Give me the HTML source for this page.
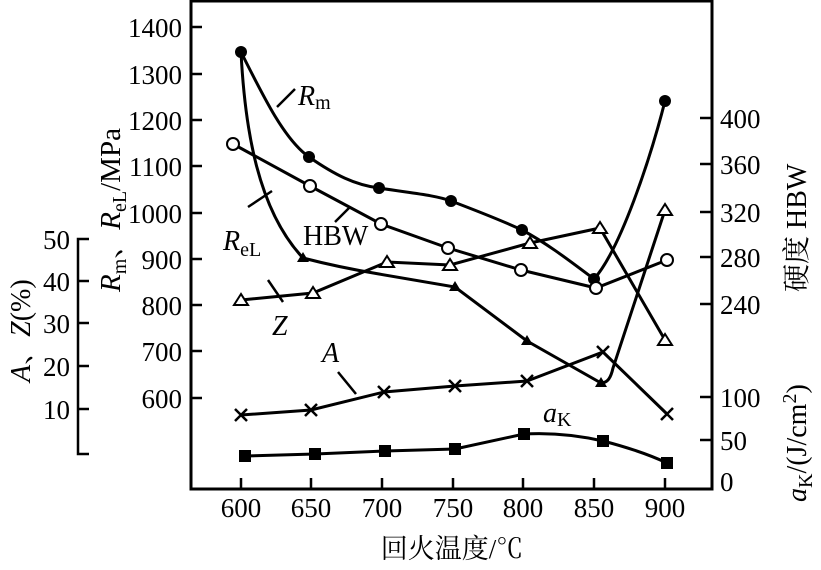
<!DOCTYPE html>
<html><head><meta charset="utf-8"><style>
html,body{margin:0;padding:0;background:#fff;}
svg text{font-family:"Liberation Serif","Noto Serif CJK SC",serif;fill:#000;}
</style></head><body>
<svg width="821" height="565" viewBox="0 0 821 565" xmlns="http://www.w3.org/2000/svg">
<rect x="191" y="1" width="521" height="488" fill="none" stroke="#000" stroke-width="3"/>
<g stroke="#000" stroke-width="2.5">
<line x1="191" y1="27" x2="202" y2="27"/><line x1="191" y1="74" x2="202" y2="74"/><line x1="191" y1="120" x2="202" y2="120"/><line x1="191" y1="166" x2="202" y2="166"/><line x1="191" y1="213" x2="202" y2="213"/><line x1="191" y1="259" x2="202" y2="259"/><line x1="191" y1="305" x2="202" y2="305"/><line x1="191" y1="351" x2="202" y2="351"/><line x1="191" y1="398" x2="202" y2="398"/>
<line x1="700" y1="118" x2="712" y2="118"/><line x1="700" y1="164" x2="712" y2="164"/><line x1="700" y1="212" x2="712" y2="212"/><line x1="700" y1="257" x2="712" y2="257"/><line x1="700" y1="304" x2="712" y2="304"/><line x1="700" y1="397" x2="712" y2="397"/><line x1="700" y1="440" x2="712" y2="440"/>
<line x1="241" y1="478" x2="241" y2="489"/><line x1="311" y1="478" x2="311" y2="489"/><line x1="382" y1="478" x2="382" y2="489"/><line x1="453" y1="478" x2="453" y2="489"/><line x1="523" y1="478" x2="523" y2="489"/><line x1="594" y1="478" x2="594" y2="489"/><line x1="665" y1="478" x2="665" y2="489"/>
<polyline points="89,239 78,239 78,454 89,454" fill="none"/>
<line x1="78" y1="281" x2="89" y2="281"/><line x1="78" y1="323" x2="89" y2="323"/><line x1="78" y1="366" x2="89" y2="366"/><line x1="78" y1="409" x2="89" y2="409"/>
</g>
<g font-size="27" text-anchor="end">
<text x="182" y="37">1400</text><text x="182" y="84">1300</text><text x="182" y="130">1200</text><text x="182" y="176">1100</text><text x="182" y="223">1000</text><text x="182" y="269">900</text><text x="182" y="315">800</text><text x="182" y="361">700</text><text x="182" y="408">600</text>
<text x="70" y="249">50</text><text x="70" y="291">40</text><text x="70" y="333">30</text><text x="70" y="376">20</text><text x="70" y="419">10</text>
</g>
<g font-size="27" text-anchor="start">
<text x="720" y="128">400</text><text x="720" y="174">360</text><text x="720" y="222">320</text><text x="720" y="267">280</text><text x="720" y="314">240</text><text x="720" y="407">100</text><text x="720" y="450">50</text><text x="720" y="491">0</text>
</g>
<g font-size="27" text-anchor="middle">
<text x="241" y="517">600</text><text x="311" y="517">650</text><text x="382" y="517">700</text><text x="453" y="517">750</text><text x="523" y="517">800</text><text x="594" y="517">850</text><text x="665" y="517">900</text>
<text x="452" y="558">回火温度/℃</text>
</g>
<text transform="translate(120,292) rotate(-90)" font-size="29"><tspan font-style="italic">R</tspan><tspan font-size="20" dy="6">m</tspan><tspan dy="-6">、</tspan><tspan font-style="italic">R</tspan><tspan font-size="20" dy="6">eL</tspan><tspan dy="-6">/MPa</tspan></text>
<text transform="translate(30,382) rotate(-90)" font-size="28"><tspan font-style="italic">A</tspan>、<tspan font-style="italic">Z</tspan>(%)</text>
<text transform="translate(806,292) rotate(-90)" font-size="28">硬度  HBW</text>
<text transform="translate(806,502) rotate(-90)" font-size="28"><tspan font-style="italic">a</tspan><tspan font-size="20" dy="6">K</tspan><tspan dy="-6">/(J/cm</tspan><tspan font-size="20" dy="-10">2</tspan><tspan dy="10">)</tspan></text>
<g fill="none" stroke="#000" stroke-width="3">
<path d="M241,52 C265,100 285,140 309,157 C335,175 355,185 379,188 C410,193 435,195 451,201 C480,212 505,222 522,230 C550,245 575,265 594,279 C620,250 650,160 665,101"/>
<path d="M241,52 C245,130 258,210 303,258 C330,265 355,270 379,274 L455,287 L527,341 L601,383 C608,383 611,377 613,368 L665,210"/>
<polyline points="233,144 310,186 381,224 448,248 521,270 596,288 667,260"/>
<polyline points="241,300 313,293 387,262 450,265 530,243 600,228 665,340"/>
<polyline points="241,415 311,410 384,392 455,386 527,381 603,352 667,414"/>
<path d="M245,456 L315,454 L385,451 L455,449 L524,434 C560,432 590,438 603,441 C630,448 650,455 667,463"/>
</g>
<g fill="#000">
<circle cx="241" cy="52" r="6"/><circle cx="309" cy="157" r="6"/><circle cx="379" cy="188" r="6"/><circle cx="451" cy="201" r="6"/><circle cx="522" cy="230" r="6"/><circle cx="594" cy="279" r="6"/><circle cx="665" cy="101" r="6"/>
<polygon points="303,252 297,262 309,262"/><polygon points="455,281 449,291 461,291"/><polygon points="527,335 521,345 533,345"/><polygon points="601,377 595,387 607,387"/>
<rect x="239" y="450" width="12" height="12"/><rect x="309" y="448" width="12" height="12"/><rect x="379" y="445" width="12" height="12"/><rect x="449" y="443" width="12" height="12"/><rect x="518" y="428" width="12" height="12"/><rect x="597" y="435" width="12" height="12"/><rect x="661" y="457" width="12" height="12"/>
</g>
<g fill="#fff" stroke="#000" stroke-width="2">
<circle cx="233" cy="144" r="6"/><circle cx="310" cy="186" r="6"/><circle cx="381" cy="224" r="6"/><circle cx="448" cy="248" r="6"/><circle cx="521" cy="270" r="6"/><circle cx="596" cy="288" r="6"/><circle cx="667" cy="260" r="6"/>
<polygon points="241,294 234,305 248,305"/><polygon points="313,287 306,298 320,298"/><polygon points="387,256 380,267 394,267"/><polygon points="450,259 443,270 457,270"/><polygon points="530,237 523,248 537,248"/><polygon points="600,222 593,233 607,233"/><polygon points="665,334 658,345 672,345"/><polygon points="665,204 658,215 672,215"/>
</g>
<g stroke="#000" stroke-width="2.5">
<path d="M235,409 l12,12 M247,409 l-12,12"/><path d="M305,404 l12,12 M317,404 l-12,12"/><path d="M378,386 l12,12 M390,386 l-12,12"/><path d="M449,380 l12,12 M461,380 l-12,12"/><path d="M521,375 l12,12 M533,375 l-12,12"/><path d="M597,346 l12,12 M609,346 l-12,12"/><path d="M661,408 l12,12 M673,408 l-12,12"/>
<line x1="277" y1="107" x2="295" y2="89"/>
<line x1="248" y1="207" x2="272" y2="191"/>
<line x1="335" y1="222" x2="350" y2="207"/>
<line x1="268" y1="280" x2="283" y2="302"/>
<line x1="338" y1="372" x2="356" y2="394"/>
</g>
<g font-size="28">
<text x="298" y="105"><tspan font-style="italic">R</tspan><tspan font-size="20" dy="4">m</tspan></text>
<text x="303" y="245">HBW</text>
<text x="223" y="250"><tspan font-style="italic">R</tspan><tspan font-size="20" dy="6">eL</tspan></text>
<text x="272" y="335" font-style="italic">Z</text>
<text x="322" y="362" font-style="italic">A</text>
<text x="543" y="422"><tspan font-style="italic">a</tspan><tspan font-size="20" dy="4">K</tspan></text>
</g>
</svg>
</body></html>
